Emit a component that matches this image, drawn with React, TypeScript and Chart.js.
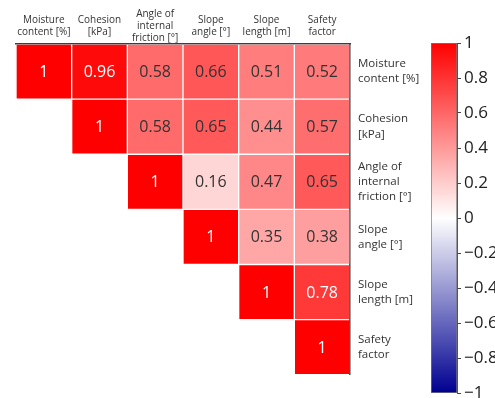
import React, { useEffect, useRef } from "react";
import { Chart, registerables } from "chart.js";

Chart.register(...registerables);

const colLabels: string[][] = [
  ["Moisture", "content [%]"],
  ["Cohesion", "[kPa]"],
  ["Angle of", "internal", "friction [°]"],
  ["Slope", "angle [°]"],
  ["Slope", "length [m]"],
  ["Safety", "factor"],
];
const rowLabels: string[][] = colLabels;

const row0 = [1, 0.96, 0.58, 0.66, 0.51, 0.52];
const row1 = [null, 1, 0.58, 0.65, 0.44, 0.57];
const row2 = [null, null, 1, 0.16, 0.47, 0.65];
const row3 = [null, null, null, 1, 0.35, 0.38];
const row4 = [null, null, null, null, 1, 0.78];
const row5 = [null, null, null, null, null, 1];
const corr: (number | null)[][] = [row0, row1, row2, row3, row4, row5];

const colorbarTicks = [-1, -0.8, -0.6, -0.4, -0.2, 0, 0.2, 0.4, 0.6, 0.8, 1];

function colorFor(v: number): string {
  if (v >= 0) {
    const c = Math.round(255 * (1 - v));
    return `rgb(255,${c},${c})`;
  }
  const t = -v;
  const r = Math.round(255 * (1 - t));
  const b = Math.round(255 - (255 - 145) * t);
  return `rgb(${r},${r},${b})`;
}

const FONT = "'Open Sans', 'Noto Sans', sans-serif";

const cellLabelPlugin = {
  id: "cellLabels",
  afterDatasetsDraw(chart: any) {
    const ctx = chart.ctx;
    ctx.save();
    ctx.font = `16px ${FONT}`;
    ctx.textAlign = "center";
    ctx.textBaseline = "middle";
    chart.data.datasets.forEach((ds: any, di: number) => {
      const meta = chart.getDatasetMeta(di);
      meta.data.forEach((el: any, j: number) => {
        const v = corr[di][j];
        if (v === null || v === undefined) return;
        const { x, y, base } = el.getProps(["x", "y", "base"], true);
        ctx.fillStyle = v >= 0.75 ? "#ffffff" : "#333333";
        ctx.fillText(String(v), x, (y + base) / 2 + 1);
      });
    });
    ctx.restore();
  },
};

function fmtTick(v: number): string {
  const r = Math.round(v * 10) / 10;
  if (r === 0) return "0";
  const s = Math.abs(r).toString();
  return r < 0 ? "\u2212" + s : s;
}

export default function App() {
  const mainRef = useRef<HTMLCanvasElement>(null);
  const cbRef = useRef<HTMLCanvasElement>(null);

  useEffect(() => {
    const datasets = corr.map((row, i) => ({
      label: "row" + i,
      data: row.map((v) => (v === null ? null : [i, i + 1])),
      grouped: false,
      barPercentage: 1,
      categoryPercentage: 1,
      borderWidth: 1,
      borderSkipped: false,
      borderColor: "rgba(255,255,255,0.14)",
      backgroundColor: row.map((v) => (v === null ? "rgba(0,0,0,0)" : colorFor(v))),
    }));

    const main = new Chart(mainRef.current!, {
      type: "bar",
      data: { labels: colLabels as any, datasets: datasets as any },
      options: {
        animation: false,
        responsive: false,
        layout: { padding: { left: 16, bottom: 6, top: 0, right: 0 } },
        plugins: { legend: { display: false }, tooltip: { enabled: false } },
        scales: {
          x: {
            position: "top",
            grid: { display: false, drawTicks: false },
            border: { display: true, color: "#3c3c3c", width: 1.5 },
            ticks: {
              font: { family: FONT, size: 10, lineHeight: 1.2 },
              color: "#333",
              padding: 6,
              crossAlign: "center",
              maxRotation: 0,
              autoSkip: false,
            },
            afterFit: (axis: any) => {
              axis.height = 44;
            },
          },
          y: {
            type: "linear",
            min: 0,
            max: 6,
            reverse: true,
            display: false,
          },
          y2: {
            type: "category",
            position: "right",
            labels: rowLabels as any,
            offset: true,
            grid: { display: false, drawTicks: false },
            border: { display: true, color: "#3c3c3c", width: 1.5 },
            ticks: {
              font: { family: FONT, size: 11.5, lineHeight: 1.33 },
              color: "#333",
              padding: 8,
              autoSkip: false,
            },
            afterFit: (axis: any) => {
              axis.width = 75;
            },
          },
        },
      } as any,
      plugins: [cellLabelPlugin],
    });

    const cb = new Chart(cbRef.current!, {
      type: "bar",
      data: {
        labels: [""],
        datasets: [
          {
            data: [[-1, 1]] as any,
            barPercentage: 1,
            categoryPercentage: 1,
            borderWidth: 1,
            borderSkipped: false,
            borderColor: "#777",
            backgroundColor: (ctx: any) => {
              const area = ctx.chart.chartArea;
              if (!area) return "#fff";
              const g = ctx.chart.ctx.createLinearGradient(0, area.bottom, 0, area.top);
              for (let k = 0; k <= 20; k++) {
                const v = -1 + k * 0.1;
                g.addColorStop(k / 20, colorFor(v));
              }
              return g;
            },
          },
        ],
      },
      options: {
        animation: false,
        responsive: false,
        layout: { padding: { left: 6, top: 43, bottom: 17, right: 0 } },
        plugins: { legend: { display: false }, tooltip: { enabled: false } },
        scales: {
          x: { display: false },
          y: {
            position: "right",
            min: -1,
            max: 1,
            afterBuildTicks: (axis: any) => {
              axis.ticks = colorbarTicks.map((v) => ({ value: v }));
            },
            grid: { drawOnChartArea: false, drawTicks: true, tickLength: 4, color: "#444" },
            border: { display: true, color: "#555", width: 1 },
            ticks: {
              font: { family: FONT, size: 17 },
              color: "#222",
              padding: 3,
              callback: (v: any) => fmtTick(Number(v)),
            },
            afterFit: (axis: any) => {
              axis.width = 48;
            },
          },
        },
      } as any,
    });

    return () => {
      main.destroy();
      cb.destroy();
    };
  }, []);

  return (
    <div
      style={{
        position: "fixed",
        left: 0,
        top: 0,
        width: 495,
        height: 398,
        overflow: "hidden",
        background: "#fff",
      }}
    >
      <canvas
        ref={mainRef}
        width={425}
        height={398}
        style={{ position: "absolute", left: 0, top: 0 }}
      />
      <canvas
        ref={cbRef}
        width={80}
        height={410}
        style={{ position: "absolute", left: 425, top: 0 }}
      />
    </div>
  );
}
